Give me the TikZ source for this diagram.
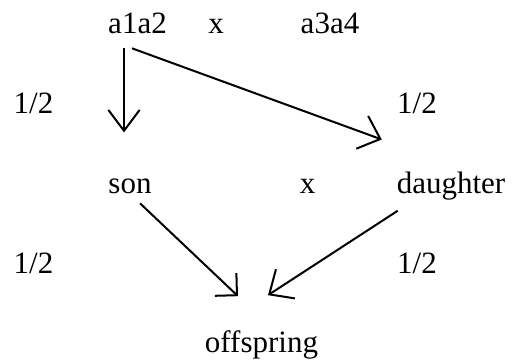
\documentclass[tikz,border=0pt]{standalone}
\usepackage{fontspec}
\setmainfont{Liberation Serif}
\usetikzlibrary{arrows.meta}
\begin{document}
\begin{tikzpicture}[x=1pt,y=-1pt,
    lbl/.style={anchor=base,inner sep=0pt,outer sep=0pt,font=\fontsize{31}{34}\selectfont},
    link/.style={line width=2pt,-{Straight Barb[angle=#1,line width=2pt]}},
    link/.default={84:26pt}]
  \useasboundingbox[fill=white] (0,0) rectangle (512,360);

  % parents
  \node[lbl] (p1) at (137.5,33) {a1a2};
  \node[lbl] (cross1) at (216,33) {x};
  \node[lbl] (p2) at (330,33) {a3a4};

  % children
  \node[lbl] (son) at (130,193) {son};
  \node[lbl] (cross2) at (307.5,193) {x};
  \node[lbl] (dau) at (451,193) {daughter};

  % grandchild
  \node[lbl] (off) at (261.5,352) {offspring};

  % transmission probabilities
  \node[lbl] (h1) at (33.5,113) {1/2};
  \node[lbl] (h2) at (417,113) {1/2};
  \node[lbl] (h3) at (33.5,273) {1/2};
  \node[lbl] (h4) at (417,273) {1/2};

  % paths of descent
  \draw[link={74:26pt}] ([shift={(-13.5,15)}]p1.south) -- ([shift={(-6,-46)}]son.north);
  \draw[link] ([shift={(-5.5,15)}]p1.south) -- ([shift={(-15,-32)}]dau.north west);
  \draw[link={90:22pt}] ([shift={(10,10)}]son.south) -- ([shift={(-23.5,-34)}]off.north);
  \draw[link] ([shift={(1,11)}]dau.south west) -- ([shift={(6.5,-35)}]off.north);
\end{tikzpicture}
\end{document}
